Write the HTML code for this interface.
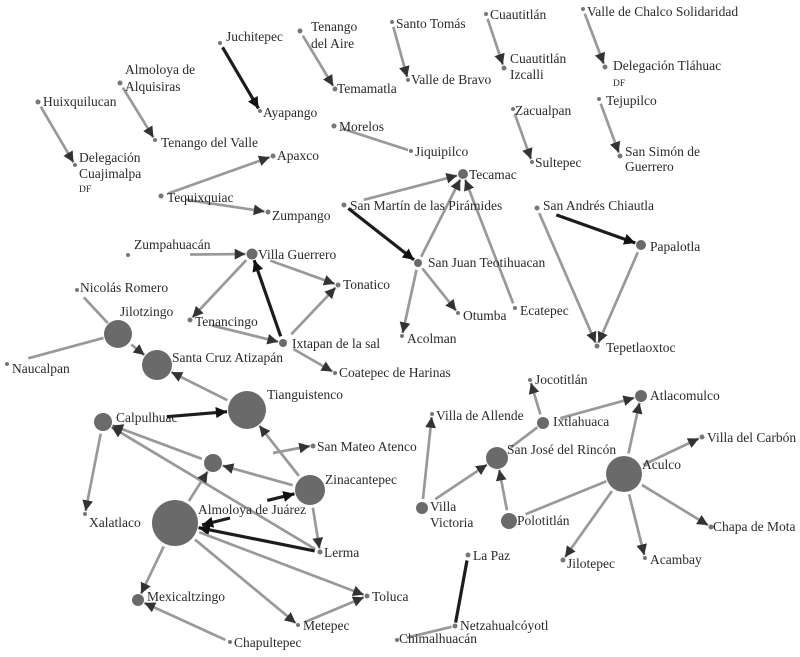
<!DOCTYPE html>
<html><head><meta charset="utf-8"><style>
html,body{margin:0;padding:0;background:#fff;width:800px;height:657px;overflow:hidden}
svg{display:block}
text{font-family:"Liberation Serif",serif;font-size:13.5px;fill:#2a2a2a}
text.s{font-size:9.5px}
</style></head><body>
<svg id="g" width="800" height="657" viewBox="0 0 800 657">
<defs>
<marker id="ag" viewBox="0 0 10 10" refX="10" refY="5" markerWidth="4" markerHeight="4" orient="auto" markerUnits="strokeWidth"><path d="M0,0L10,5L0,10z" fill="#333"/></marker>
<marker id="ab" viewBox="0 0 10 10" refX="10" refY="5" markerWidth="3.5" markerHeight="3.5" orient="auto" markerUnits="strokeWidth"><path d="M0,0L10,5L0,10z" fill="#111"/></marker>
</defs>
<g id="edges"></g>
<g id="nodes"></g>
<g>
<text x="226" y="41">Juchitepec</text>
<text x="311" y="31">Tenango</text><text x="311" y="48">del Aire</text>
<text x="337" y="93">Temamatla</text>
<text x="263" y="117">Ayapango</text>
<text x="125" y="74">Almoloya de</text><text x="125" y="91">Alquisiras</text>
<text x="43" y="106">Huixquilucan</text>
<text x="161" y="147">Tenango del Valle</text>
<text x="79" y="162">Delegación</text><text x="79" y="178">Cuajimalpa</text><text class="s" x="79" y="192">DF</text>
<text x="277" y="160">Apaxco</text>
<text x="167" y="202">Tequixquiac</text>
<text x="272" y="220">Zumpango</text>
<text x="339" y="131">Morelos</text>
<text x="415" y="156">Jiquipilco</text>
<text x="396" y="28">Santo Tomás</text>
<text x="411" y="84">Valle de Bravo</text>
<text x="490" y="19">Cuautitlán</text>
<text x="510" y="63">Cuautitlán</text><text x="510" y="79">Izcalli</text>
<text x="587" y="16">Valle de Chalco Solidaridad</text>
<text x="613" y="70">Delegación Tláhuac</text><text class="s" x="613" y="86">DF</text>
<text x="606" y="105">Tejupilco</text>
<text x="515" y="115">Zacualpan</text>
<text x="535" y="167">Sultepec</text>
<text x="625" y="156">San Simón de</text><text x="625" y="171">Guerrero</text>
<text x="469" y="179">Tecamac</text>
<text x="350" y="210">San Martín de las Pirámides</text>
<text x="543" y="210">San Andrés Chiautla</text>
<text x="650" y="251">Papalotla</text>
<text x="428" y="267">San Juan Teotihuacan</text>
<text x="463" y="320">Otumba</text>
<text x="520" y="315">Ecatepec</text>
<text x="407" y="343">Acolman</text>
<text x="606" y="352">Tepetlaoxtoc</text>
<text x="134" y="249">Zumpahuacán</text>
<text x="258" y="259">Villa Guerrero</text>
<text x="343" y="289">Tonatico</text>
<text x="80" y="292">Nicolás Romero</text>
<text x="120" y="316">Jilotzingo</text>
<text x="195" y="326">Tenancingo</text>
<text x="292" y="348">Ixtapan de la sal</text>
<text x="172" y="362">Santa Cruz Atizapán</text>
<text x="12" y="373">Naucalpan</text>
<text x="339" y="377">Coatepec de Harinas</text>
<text x="267" y="399">Tianguistenco</text>
<text x="116" y="422">Calpulhuac</text>
<text x="317" y="451">San Mateo Atenco</text>
<text x="325" y="484">Zinacantepec</text>
<text x="198" y="514">Almoloya de Juárez</text>
<text x="89" y="527">Xalatlaco</text>
<text x="324" y="557">Lerma</text>
<text x="147" y="601">Mexicaltzingo</text>
<text x="372" y="601">Toluca</text>
<text x="303" y="630">Metepec</text>
<text x="234" y="647">Chapultepec</text>
<text x="535" y="384">Jocotitlán</text>
<text x="436" y="420">Villa de Allende</text>
<text x="553" y="426">Ixtlahuaca</text>
<text x="650" y="400">Atlacomulco</text>
<text x="507" y="454">San José del Rincón</text>
<text x="707" y="442">Villa del Carbón</text>
<text x="642" y="469">Aculco</text>
<text x="430" y="511">Villa</text><text x="430" y="527">Victoria</text>
<text x="517" y="525">Polotitlán</text>
<text x="713" y="531">Chapa de Mota</text>
<text x="650" y="564">Acambay</text>
<text x="567" y="568">Jilotepec</text>
<text x="473" y="560">La Paz</text>
<text x="460" y="630">Netzahualcóyotl</text>
<text x="399" y="643">Chimalhuacán</text>
</g>
</svg>
<script>
var N={
juch:[220,43,2],ayap:[260,111,2],tair:[300,31,2.5],tema:[335,89,2.5],alq:[120,83,2.5],tval:[155,140,2],huix:[38,102,2.5],cuaj:[75,165,2],
stom:[392,22,2],vbra:[408,80,2],cuau:[486,14,2],izca:[504,68,2.5],vcha:[583,9,2],tlah:[605,67,2.5],teju:[599,99,2],ssim:[620,156,2.5],
zacu:[513,109,2],sult:[532,162,2],mor:[334,126,2.5],jiq:[411,151,2],teq:[161,196,2.5],apax:[273,156,2.5],zump:[268,212,2.5],
teca:[463,174,5],smar:[344,205,2.5],sjt:[418,263,4],otu:[458,313,2],aco:[402,336,2],eca:[515,308,2],sand:[537,208,2.5],papa:[641,245,5],tepe:[597,346,2.5],
zpa:[128,255,2],vgue:[252,254,5.5],tona:[338,285,2.5],tenc:[190,320,2.5],ixt:[283,343,4],coat:[335,373,2],nrom:[77,290,2],jilo:[118,334,14],scru:[157,365,15],nauc:[7,364,2],
tian:[247,410,19],calp:[103,422,9],unk:[213,463,9],zina:[310,490,15],alm:[175,523,23],lerm:[320,552,2.5],smat:[313,446,2.5],xala:[85,514,2],mexi:[138,600,6],meta:[298,625,2],tolu:[367,596,2.5],chap:[230,642,2],
joco:[530,380,2],ixtl:[543,423,6],atla:[641,396,6],sjr:[497,458,11],vall:[432,414,2],vvic:[422,508,6],polo:[509,521,8],acul:[624,474,18],vcar:[702,437,2.5],cmot:[711,527,2.5],acam:[645,558,2],jilt:[563,560,2.5],
lpaz:[468,555,2.5],netz:[455,626,2.5],chim:[397,640,2]};
var E=[["juch","ayap",1],["tair","tema"],["alq","tval"],["huix","cuaj"],["stom","vbra"],["cuau","izca"],["vcha","tlah"],["teju","ssim"],["zacu","sult"],["mor","jiq",0,0,6],
["teq","apax",0,1,5],["teq","zump",0,1,22],["smar","teca",0,1,18],["smar","sjt",1],["sjt","teca"],["sjt","otu"],["sjt","aco"],["eca","teca"],["sand","papa",1,1,18],["sand","tepe"],["papa","tepe"],
["zpa","vgue",0,1,60],["vgue","tona",0,1,14],["vgue","tenc"],["ixt","vgue",1],["ixt","tona",0,1,8],["tenc","ixt",0,1,20],["ixt","coat",0,1,8],["nrom","jilo",0,0,8],["jilo","scru"],["nauc","jilo",0,0,20],
["tian","scru"],["calp","tian",1,1,55],["zina","tian"],["zina","unk"],["zina","lerm"],["lerm","calp"],["unk","calp"],["alm","unk"],["alm","zina",1,1,72],["lerm","alm",1],["calp","xala"],
["alm","mexi"],["alm","meta"],["alm","tolu"],["meta","tolu",0,1,6],["chap","mexi"],
["ixtl","joco"],["ixtl","atla",0,1,12],["sjr","ixtl",0,0,6],["vvic","vall"],["vvic","sjr",0,1,10],["polo","sjr"],["acul","atla"],["acul","vcar"],["acul","cmot"],["acul","acam"],["acul","jilt"],["polo","acul",0,0,10],
["lpaz","netz",1,0],["chim","netz",0,0,8]];
var ns="http://www.w3.org/2000/svg",eg=document.getElementById("edges"),ng=document.getElementById("nodes");
function L(x1,y1,x2,y2,b,ar){var l=document.createElementNS(ns,"line");l.setAttribute("x1",x1);l.setAttribute("y1",y1);l.setAttribute("x2",x2);l.setAttribute("y2",y2);
l.setAttribute("stroke",b?"#1c1c1c":"#999");l.setAttribute("stroke-width",b?3.2:2.7);if(ar)l.setAttribute("marker-end","url(#"+(b?"ab":"ag")+")");eg.appendChild(l);}
E.forEach(function(e){var a=N[e[0]],b=N[e[1]];if(a===b)return;var dx=b[0]-a[0],dy=b[1]-a[1],d=Math.hypot(dx,dy),ux=dx/d,uy=dy/d;
var s=a[2]+(e[4]||3),t=b[2]+1;L(a[0]+ux*s,a[1]+uy*s,b[0]-ux*t,b[1]-uy*t,e[2],e[3]!==0);});
L(273,453,310,446,0,1);L(230,518,202,525,1,1);
for(var k in N){var c=document.createElementNS(ns,"circle");c.setAttribute("cx",N[k][0]);c.setAttribute("cy",N[k][1]);c.setAttribute("r",N[k][2]);c.setAttribute("fill",N[k][2]>3?"#6a6a6a":"#777");ng.appendChild(c);}
</script>
</body></html>
